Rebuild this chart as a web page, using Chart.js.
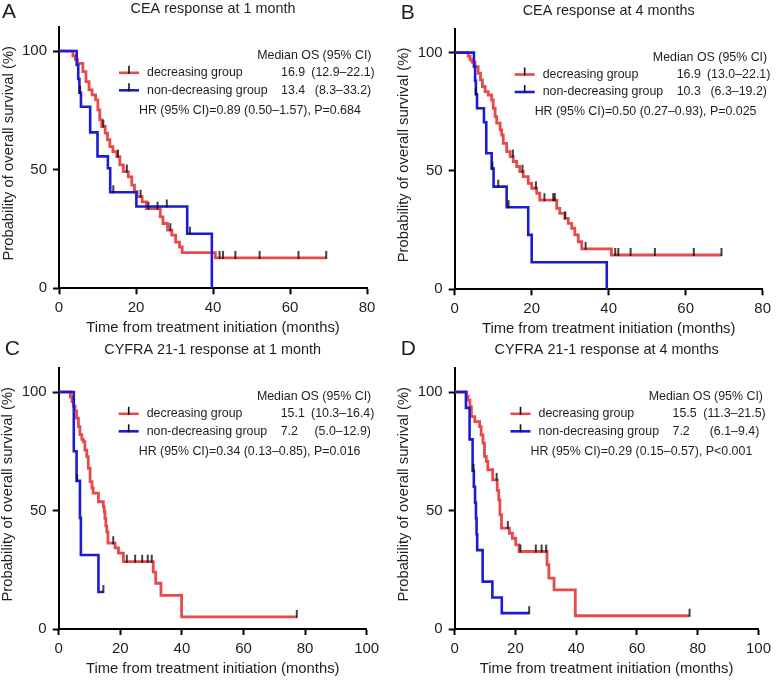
<!DOCTYPE html>
<html><head><meta charset="utf-8">
<script src="https://cdn.jsdelivr.net/npm/chart.js@4/dist/chart.umd.min.js"></script>
<style>
html,body{margin:0;padding:0;background:#fff;}
#wrap{position:relative;width:776px;height:680px;overflow:hidden;background:#fff;}
canvas{position:absolute;}
</style></head><body><div id="wrap">
<canvas id="cA"></canvas><canvas id="cB"></canvas><canvas id="cC"></canvas><canvas id="cD"></canvas>
</div>
<script>
// ---------------- DATA ----------------
const xTicks80 = [0, 20, 40, 60, 80];
const xTicks100 = [0, 20, 40, 60, 80, 100];
const yTicks = [0, 50, 100];
const yTitle = 'Probability of overall survival (%)';
const xTitle = 'Time from treatment initiation (months)';
const medianHeader = 'Median OS (95% CI)';
const groupLabels = ['decreasing group', 'non-decreasing group'];
const panelLetters = ['A', 'B', 'C', 'D'];
const panelTitles = ['CEA response at 1 month', 'CEA response at 4 months', 'CYFRA 21-1 response at 1 month', 'CYFRA 21-1 response at 4 months'];
const medians = [['16.9', '13.4'], ['16.9', '10.3'], ['15.1', '7.2'], ['15.5', '7.2']];
const medianCIs = [['(12.9–22.1)', '(8.3–33.2)'], ['(13.0–22.1)', '(6.3–19.2)'], ['(10.3–16.4)', '(5.0–12.9)'], ['(11.3–21.5)', '(6.1–9.4)']];
const hrTexts = ['HR (95% CI)=0.89 (0.50–1.57), P=0.684', 'HR (95% CI)=0.50 (0.27–0.93), P=0.025', 'HR (95% CI)=0.34 (0.13–0.85), P=0.016', 'HR (95% CI)=0.29 (0.15–0.57), P<0.001'];

// Panel A
const aRedT = [0, 3.6, 4.2, 4.8, 6.2, 7.0, 7.8, 8.6, 9.5, 10.1, 10.6, 11.1, 12.0, 12.6, 13.2, 14.0, 15.0, 15.8, 16.7, 18.0, 18.9, 19.6, 20.3, 21.6, 22.7, 26.3, 27.0, 28.2, 29.3, 30.3, 31.3, 32.0, 40.6, 69.4];
const aRedS = [100, 98, 96.5, 94.8, 91.3, 87.1, 83.6, 81.5, 79.4, 75.2, 71, 68.2, 65.4, 62.6, 59.7, 57.6, 55.5, 52, 49.2, 47, 43.5, 40.7, 38.6, 36.4, 33.6, 30.1, 27.3, 24.5, 22.4, 19.5, 17.4, 15, 12.8, 12.8];
const aRedCens = [11.5, 15.3, 17.6, 21.2, 23.2, 25.6, 28.9, 41.7, 42.6, 45.8, 52.1, 62.2, 69.4];
const aBlueT = [0, 4.6, 5.0, 5.3, 5.7, 8.1, 10.0, 12.7, 13.3, 20.1, 33.3, 39.7];
const aBlueS = [100, 94.1, 88.2, 82.4, 76.5, 65.7, 55.6, 50.6, 40.5, 34.5, 23, 0];
const aBlueCens = [5.5, 14.1, 28.0, 34.0];

// Panel B
const bRedT = [0, 3.5, 4.0, 4.5, 5.3, 6.1, 6.7, 7.2, 7.9, 8.7, 9.6, 10.0, 10.5, 10.9, 11.8, 12.2, 12.6, 13.5, 14.4, 15.2, 16.1, 16.9, 17.8, 19.1, 20.0, 21.3, 22.1, 26.5, 27.3, 28.6, 29.5, 30.4, 31.2, 32.1, 33.0, 40.7, 69.3];
const bRedS = [100, 98.5, 97, 96, 94.1, 91.3, 88.5, 85.7, 83.5, 82.1, 80, 76.5, 73, 70.2, 67.4, 65.2, 61.7, 58.2, 56.1, 54, 51.9, 49.7, 47.6, 44.8, 42.7, 40.6, 37.7, 34.2, 32.1, 30, 27.9, 25.8, 23, 20.1, 17.1, 14.5, 14.5];
const bRedCens = [15.1, 17.6, 21.1, 23.3, 25.6, 26.0, 28.7, 34.0, 41.7, 42.5, 45.7, 52.0, 62.1, 69.3];
const bBlueT = [0, 5.0, 5.3, 5.5, 5.8, 7.6, 8.2, 9.6, 10.1, 13.5, 19.1, 20.0, 39.5];
const bBlueS = [100, 94.1, 88.2, 82.4, 76.5, 70.6, 57.5, 51, 43.4, 34.7, 23, 11.4, 0];
const bBlueCens = [5.5, 9.8, 11.3, 14.0];

// Panel C
const cRedT = [0, 3.8, 4.3, 4.8, 5.3, 5.8, 6.4, 6.9, 7.5, 8.0, 8.5, 9.1, 9.6, 10.2, 10.8, 11.2, 12.9, 14.5, 14.8, 15.0, 15.3, 15.6, 16.0, 18.3, 19.4, 21.0, 30.7, 31.5, 33.2, 39.9, 77.3];
const cRedS = [100, 98, 96, 94, 92, 89, 85.4, 82, 80, 79, 75.5, 72.7, 67.8, 62.2, 59.5, 57.3, 53.7, 51.5, 49.5, 46.7, 43.5, 41, 36.2, 34.2, 32, 28.4, 24, 19.3, 14.2, 5.1, 5.1];
const cRedCens = [17.7, 22.1, 24.8, 27.1, 28.9, 30.2, 77.3];
const cBlueT = [0, 4.9, 5.8, 6.9, 7.2, 12.9, 14.5];
const cBlueS = [100, 75, 62.5, 46.9, 31.25, 15.6, 15.6];
const cBlueCens = [6.0, 14.5];

// Panel D
const dRedT = [0, 3.9, 4.4, 5.0, 5.5, 6.6, 8.2, 8.7, 9.3, 9.8, 10.4, 10.9, 12.5, 14.0, 14.5, 14.9, 15.4, 18.0, 19.0, 20.1, 21.2, 30.4, 31.0, 32.7, 39.7, 77.3];
const dRedS = [100, 98.3, 96.6, 93.8, 89.6, 87.5, 85.4, 81.9, 78.4, 72.8, 70.7, 67.2, 62.9, 58.5, 54.5, 48.2, 42.6, 40.4, 38.3, 35.5, 32.7, 27.1, 21.5, 16.5, 5.6, 5.6];
const dRedCens = [13.8, 17.5, 21.6, 26.7, 28.6, 30.1, 77.3];
const dBlueT = [0, 3.7, 4.9, 5.9, 6.3, 6.7, 7.0, 7.2, 7.4, 9.2, 12.4, 15.5, 24.5];
const dBlueS = [100, 93.3, 80, 66.7, 60, 53.3, 46.7, 40, 33.3, 20, 13.3, 6.7, 6.7];
const dBlueCens = [6.2, 24.5];

// ---------------- STYLE / LAYOUT ----------------
const FONT = '"Liberation Sans", Arial, Helvetica, sans-serif';
const RED = '#e8494b', BLUE = '#1c1cd4', INK = '#1e1e1e';

const panels = [
  {id:'cA', cx:0,   cy:0,   cw:388, ch:345, L:59,   R:367, T:27.3, B:288.3, xMax:80,  xt:xTicks80,  letterDX:-57, letterDY:-15,
   red:[aRedT,aRedS,aRedCens], blue:[aBlueT,aBlueS,aBlueCens]},
  {id:'cB', cx:388, cy:0,   cw:388, ch:345, L:66.7, R:375, T:29.0, B:289.3, xMax:80,  xt:xTicks80,  letterDX:-54, letterDY:-16,
   red:[bRedT,bRedS,bRedCens], blue:[bBlueT,bBlueS,bBlueCens]},
  {id:'cC', cx:0,   cy:330, cw:388, ch:350, L:58.7, R:366.7, T:38.3, B:299, xMax:100, xt:xTicks100, letterDX:-54, letterDY:-19,
   red:[cRedT,cRedS,cRedCens], blue:[cBlueT,cBlueS,cBlueCens]},
  {id:'cD', cx:388, cy:330, cw:388, ch:350, L:66.7, R:375, T:38.3, B:299, xMax:100, xt:xTicks100, letterDX:-54, letterDY:-19,
   red:[dRedT,dRedS,dRedCens], blue:[dBlueT,dBlueS,dBlueCens]}
];

function tickImage() {
  const c = document.createElement('canvas');
  c.width = 6; c.height = 18;
  const g = c.getContext('2d');
  g.strokeStyle = '#111'; g.lineWidth = 1.6;
  g.beginPath(); g.moveTo(3, 2); g.lineTo(3, 10); g.stroke();
  return c;
}
const TICK = tickImage();

function steps(T, S) { return T.map((t, i) => ({x: t, y: S[i]})); }
function survAt(T, S, t) { let v = S[0]; for (let i = 0; i < T.length; i++) { if (T[i] <= t) v = S[i]; } return v; }
function censPts(T, S, C) { return C.map(t => ({x: t, y: survAt(T, S, t)})); }

function textPlugin(idx) {
  return {
    id: 'panelText' + idx,
    afterDraw(chart) {
      const ctx = chart.ctx, ca = chart.chartArea, P = panels[idx];
      ctx.save();
      ctx.fillStyle = INK;
      ctx.textBaseline = 'middle';
      // panel letter
      ctx.font = `21px ${FONT}`; ctx.textAlign = 'left';
      ctx.fillText(panelLetters[idx], ca.left + P.letterDX, ca.top + P.letterDY);
      // title
      ctx.font = `14.4px ${FONT}`; ctx.textAlign = 'center';
      ctx.fillText(panelTitles[idx], (ca.left + ca.right) / 2, ca.top - 18);
      // x title
      ctx.font = `14.8px ${FONT}`;
      ctx.fillText(xTitle, (ca.left + ca.right) / 2, ca.bottom + 39.7);
      // y title
      ctx.save();
      ctx.translate(ca.left - 50.5, ca.top + 126);
      ctx.rotate(-Math.PI / 2);
      ctx.fillText(yTitle, 0, 0);
      ctx.restore();
      // legend block
      ctx.font = `12.4px ${FONT}`;
      ctx.textAlign = 'right';
      ctx.fillText(medianHeader, ca.right + 4.5, ca.top + 28.5);
      const rowY = [ca.top + 45.5, ca.top + 63];
      const cols = [RED, BLUE];
      for (let r = 0; r < 2; r++) {
        const y = rowY[r];
        ctx.strokeStyle = cols[r]; ctx.lineWidth = 2.6;
        ctx.beginPath(); ctx.moveTo(ca.right - 248, y); ctx.lineTo(ca.right - 228, y); ctx.stroke();
        ctx.strokeStyle = '#111'; ctx.lineWidth = 1.6;
        ctx.beginPath(); ctx.moveTo(ca.right - 238, y - 7); ctx.lineTo(ca.right - 238, y + 1); ctx.stroke();
        ctx.textAlign = 'left';
        ctx.fillText(groupLabels[r], ca.right - 220, y);
        ctx.fillText(medians[idx][r], ca.right - 86, y);
        ctx.textAlign = 'center';
        ctx.fillText(medianCIs[idx][r], ca.right - 24, y);
      }
      ctx.textAlign = 'left';
      ctx.fillText(hrTexts[idx], ca.right - 228, ca.top + 83);
      ctx.restore();
    }
  };
}

function makePanel(idx) {
  const P = panels[idx];
  const cv = document.getElementById(P.id);
  cv.width = P.cw; cv.height = P.ch;
  cv.style.left = P.cx + 'px'; cv.style.top = P.cy + 'px';
  const [rT, rS, rC] = P.red, [bT, bS, bC] = P.blue;
  const yW = P.L, xH = P.ch - P.B;
  new Chart(cv, {
    type: 'scatter',
    data: { datasets: [
      {data: censPts(rT, rS, rC), pointStyle: TICK, pointRadius: 4, showLine: false, order: 0},
      {data: censPts(bT, bS, bC), pointStyle: TICK, pointRadius: 4, showLine: false, order: 0},
      {data: steps(bT, bS), showLine: true, stepped: true, borderColor: BLUE, borderWidth: 2.6, pointRadius: 0, fill: false, order: 1, borderCapStyle: 'butt', borderJoinStyle: 'miter'},
      {data: steps(rT, rS), showLine: true, stepped: true, borderColor: RED, borderWidth: 2.8, pointRadius: 0, fill: false, order: 2, borderCapStyle: 'butt', borderJoinStyle: 'miter'}
    ]},
    options: {
      responsive: false, animation: false, devicePixelRatio: 1,
      layout: { padding: { left: 0, top: P.T, right: P.cw - P.R, bottom: 0 } },
      plugins: { legend: { display: false }, tooltip: { enabled: false } },
      scales: {
        x: {
          type: 'linear', min: 0, max: P.xMax,
          afterBuildTicks: s => { s.ticks = P.xt.map(v => ({value: v})); },
          afterFit: s => { s.height = xH; },
          grid: { display: true, drawOnChartArea: false, drawTicks: true, tickLength: 6, tickWidth: 2, tickColor: '#000' },
          border: { display: true, color: '#000', width: 2 },
          ticks: { padding: 5, color: INK, maxRotation: 0, autoSkip: false, font: { family: FONT, size: 15 } }
        },
        y: {
          type: 'linear', min: 0, max: 110,
          afterBuildTicks: s => { s.ticks = yTicks.map(v => ({value: v})); },
          afterFit: s => { s.width = yW; },
          grid: { display: true, drawOnChartArea: false, drawTicks: true, tickLength: 6, tickWidth: 2, tickColor: '#000' },
          border: { display: true, color: '#000', width: 2 },
          ticks: { padding: 6, color: INK, autoSkip: false, font: { family: FONT, size: 15 } }
        }
      }
    },
    plugins: [textPlugin(idx)]
  });
}
for (let i = 0; i < 4; i++) makePanel(i);
</script>
</body></html>
